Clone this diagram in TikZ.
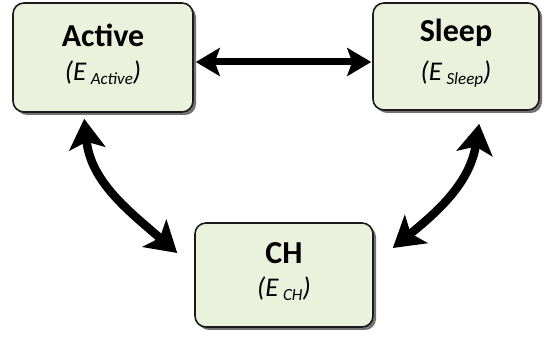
\documentclass[tikz,border=0pt]{standalone}
\usepackage{fontspec}
\setmainfont{Carlito}
\usetikzlibrary{arrows.meta,shadows}
\definecolor{boxfill}{HTML}{EAF1DD}
\definecolor{boxline}{HTML}{1A1A1A}
\newcommand{\ttl}[1]{{\fontsize{32}{34}\selectfont\bfseries #1}}
\newcommand{\sbt}[1]{\raisebox{0pt}[\height][\dimexpr\depth+7pt]{\fontsize{27}{30}\selectfont\itshape (E\,\raisebox{-0.3ex}{\fontsize{17}{17}\selectfont #1})}}
\tikzset{
  statebox/.style={draw=boxline, line width=1.6pt, fill=boxfill, rounded corners=11pt,
    align=center, inner sep=0pt,
    general shadow={fill=black!55, shadow xshift=3pt, shadow yshift=-3pt}},
  bigarrow/.style={line width=8.5pt, {Stealth[length=30pt,width=36pt,inset=7pt]}-{Stealth[length=30pt,width=36pt,inset=7pt]}},
  hzarrow/.style={line width=7pt, {Stealth[length=24pt,width=28pt,inset=5pt]}-{Stealth[length=24pt,width=28pt,inset=5pt]}}
}
\begin{document}
\begin{tikzpicture}[x=1pt,y=-1pt]
\useasboundingbox (0,0) rectangle (544,339);
\node[statebox, minimum width=180pt, minimum height=109pt] (active) at (103,57.5)
  {\ttl{Active}\\[13pt]\sbt{Active}};
\node[statebox, minimum width=166pt, minimum height=107pt] (sleep) at (456,56.5)
  {\ttl{Sleep}\\[13pt]\sbt{Sleep}};
\node[statebox, minimum width=178pt, minimum height=104pt] (ch) at (284,275)
  {\ttl{CH}\\[13pt]\sbt{CH}};
\coordinate (a1) at ([xshift=72pt,yshift=-6pt]active.south west);
\coordinate (c1) at ([xshift=-17pt,yshift=22pt]ch.west);
\coordinate (s1) at ([xshift=107pt,yshift=-13pt]sleep.south west);
\coordinate (c2) at ([xshift=19pt,yshift=27pt]ch.east);
\draw[hzarrow] ([xshift=2pt]active.east |- 0,62) -- ([xshift=-1pt]sleep.west |- 0,62);
\draw[bigarrow] (a1) to[out=-84,in=139] (c1);
\draw[bigarrow] (s1) to[out=-99,in=39] (c2);
\end{tikzpicture}
\end{document}
